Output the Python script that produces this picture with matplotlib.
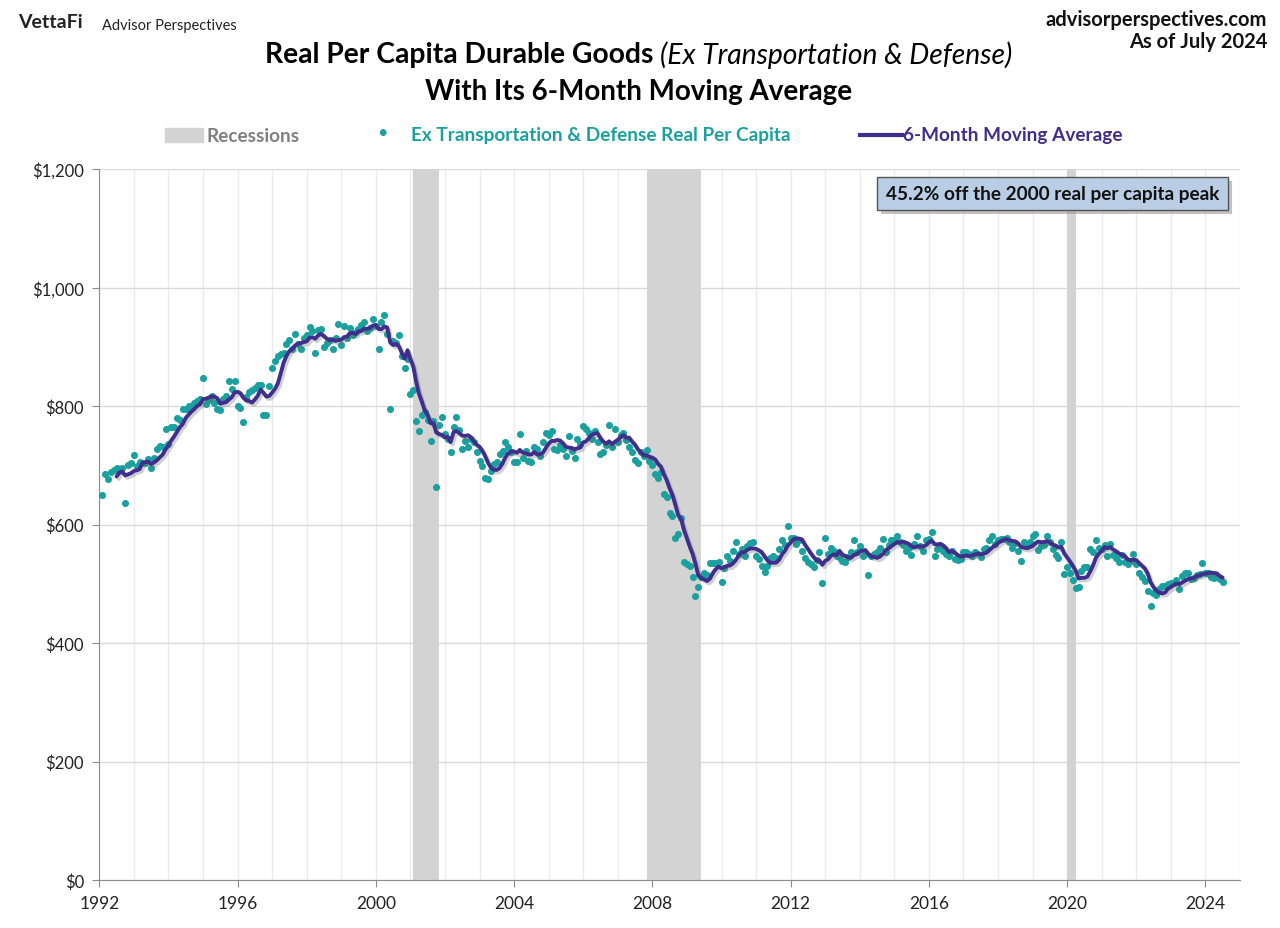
import matplotlib
matplotlib.use("Agg")
import matplotlib.pyplot as plt
import matplotlib.dates as mdates
import matplotlib.patheffects as pe
from matplotlib.patches import Rectangle
from matplotlib.ticker import FuncFormatter, MultipleLocator
import pandas as pd

plt.rcParams['font.family'] = ['Lato', 'DejaVu Sans']

# monthly real per capita durable goods ex transportation & defense, Feb 1992 - Jul 2024
first_month = "1992-02-01"
per_capita = [
    649, 686, 676, 688, 692, 695, 690, 695, 637, 700, 703,            # 1992 (Feb-Dec)
    717, 698, 705, 703, 703, 710, 695, 712, 728, 733, 730, 762,       # 1993
    736, 765, 765, 780, 777, 795, 795, 800, 797, 805, 808, 812,       # 1994
    848, 803, 810, 817, 805, 795, 793, 812, 817, 843, 829, 843,       # 1995
    800, 797, 773, 815, 823, 827, 830, 835, 835, 784, 784, 834,       # 1996
    864, 876, 885, 888, 890, 905, 912, 897, 922, 905, 897, 914,       # 1997
    920, 934, 927, 890, 929, 930, 899, 907, 912, 897, 914, 938,       # 1998
    903, 935, 915, 932, 919, 925, 930, 937, 942, 927, 932, 947,       # 1999
    935, 896, 942, 953, 922, 795, 910, 907, 919, 885, 864, 880,       # 2000
    820, 827, 775, 758, 785, 790, 777, 741, 775, 664, 768, 781,       # 2001
    753, 745, 723, 764, 781, 760, 728, 741, 730, 745, 740, 723,       # 2002
    708, 699, 678, 677, 691, 702, 705, 719, 724, 740, 730, 722,       # 2003
    705, 705, 753, 713, 724, 708, 706, 730, 728, 716, 740, 755,       # 2004
    751, 757, 727, 726, 735, 727, 715, 749, 724, 712, 744, 736,       # 2005
    767, 761, 755, 745, 757, 740, 719, 723, 735, 768, 730, 762,       # 2006
    740, 751, 755, 742, 730, 722, 709, 704, 723, 716, 726, 708,       # 2007
    700, 685, 679, 688, 651, 646, 619, 615, 578, 584, 611, 536,       # 2008
    533, 530, 511, 480, 494, 511, 518, 514, 535, 535, 535, 536,       # 2009
    503, 526, 546, 539, 555, 570, 550, 558, 547, 564, 568, 571,       # 2010
    546, 542, 530, 519, 530, 544, 547, 544, 558, 574, 565, 597,       # 2011
    578, 578, 567, 573, 555, 544, 537, 533, 528, 540, 553, 501,       # 2012
    577, 550, 560, 556, 547, 543, 539, 537, 545, 553, 573, 554,       # 2013
    564, 547, 550, 515, 547, 550, 553, 560, 576, 554, 565, 573,       # 2014
    573, 581, 570, 565, 556, 560, 549, 567, 581, 564, 556, 573,       # 2015
    576, 587, 546, 559, 564, 556, 550, 547, 556, 542, 540, 542,       # 2016
    553, 553, 550, 547, 553, 550, 545, 559, 560, 573, 581, 567,       # 2017
    573, 576, 576, 578, 570, 561, 569, 556, 539, 571, 564, 571,       # 2018
    581, 584, 557, 564, 565, 581, 570, 559, 549, 544, 570, 516,       # 2019
    528, 518, 506, 492, 494, 522, 528, 529, 559, 554, 573, 561,       # 2020
    559, 565, 546, 567, 549, 544, 537, 549, 536, 533, 539, 550,       # 2021
    533, 518, 511, 505, 487, 462, 484, 481, 491, 497, 496, 500,       # 2022
    501, 502, 506, 491, 513, 518, 518, 508, 510, 514, 516, 535,       # 2023
    518, 518, 512, 510, 512, 508, 503,                                # 2024 (Jan-Jul)
]

rec_start = ["2001-02-01", "2007-11-01", "2020-01-01"]
rec_end = ["2001-11-01", "2009-06-01", "2020-04-01"]

ma_window = 6
note = "45.2% off the 2000 real per capita peak"

TEAL = "#1AA09E"
PURPLE = "#3F2E8C"
GRAY_TXT = "#808080"

dates = pd.date_range(first_month, periods=len(per_capita), freq="MS")
s = pd.Series(per_capita, index=dates)
ma = s.rolling(ma_window).mean()

W, H = 1280, 929
fig = plt.figure(figsize=(W / 100, H / 100), dpi=100)
ax = fig.add_axes([99.3 / W, 1 - 881 / H, (1240 - 99.3) / W, 711 / H])

for a, b in zip(rec_start, rec_end):
    ax.axvspan(pd.Timestamp(a), pd.Timestamp(b), color="#D3D3D3", lw=0, zorder=1)

ax.scatter(s.index, s.values, s=26, color=TEAL, lw=0, zorder=3)
ax.plot(ma.index, ma.values, color=PURPLE, lw=2.8, zorder=4, solid_capstyle="round",
        path_effects=[pe.SimpleLineShadow(offset=(1.5, -1.8), shadow_color="#666666", alpha=0.3),
                      pe.Normal()])

ax.set_xlim(pd.Timestamp("1992-01-01"), pd.Timestamp("2025-01-01"))
ax.set_ylim(0, 1200)
ax.yaxis.set_major_locator(MultipleLocator(200))
ax.yaxis.set_major_formatter(FuncFormatter(lambda v, p: "${:,.0f}".format(v)))
ax.xaxis.set_major_locator(mdates.YearLocator(4))
ax.xaxis.set_minor_locator(mdates.YearLocator(1))
ax.xaxis.set_major_formatter(mdates.DateFormatter("%Y"))

ax.grid(axis="y", which="major", color="#D9D9D9", lw=1, zorder=0)
ax.grid(axis="x", which="both", color="#EBEBEB", lw=1, zorder=0)
ax.set_axisbelow(True)
for sp in ["top", "right"]:
    ax.spines[sp].set_visible(False)
for sp in ["left", "bottom"]:
    ax.spines[sp].set_color("#8C8C8C")
ax.tick_params(axis="both", which="major", length=5, color="#8C8C8C", labelsize=12.5,
               labelcolor="#222222", pad=6)
ax.tick_params(axis="y", labelsize=12)
ax.tick_params(axis="x", which="minor", length=0)

# header
fig.text(18 / W, 1 - 23 / H, "VettaFi", fontsize=14, fontweight="bold", color="#222222",
         va="center", ha="left")
fig.text(102 / W, 1 - 26 / H, "Advisor Perspectives", fontsize=10.5, color="#222222",
         va="center", ha="left")
fig.text(1267 / W, 1 - 20 / H, "advisorperspectives.com", fontsize=14.5, fontweight="bold",
         color="#111111", va="center", ha="right")
fig.text(1267 / W, 1 - 42 / H, "As of July 2024", fontsize=14.5, fontweight="bold",
         color="#111111", va="center", ha="right")

renderer = fig.canvas.get_renderer()


def text_runs(parts, xc, y, size):
    items = []
    for txt, weight, style, color in parts:
        t = fig.text(0, 1 - y / H, txt, fontsize=size, fontweight=weight, fontstyle=style,
                     color=color, va="center", ha="left")
        items.append(t)
    widths = [t.get_window_extent(renderer).width for t in items]
    x = xc - sum(widths) / 2
    for t, w in zip(items, widths):
        t.set_x(x / W)
        x += w
    return items


text_runs([("Real Per Capita Durable Goods ", "bold", "normal", "black"),
           ("(Ex Transportation & Defense)", "normal", "italic", "black")], 639, 55, 20.3)
text_runs([("With Its 6-Month Moving Average", "bold", "normal", "black")], 639, 92, 20)

# legend
ly = 136
fs_leg = 13.7
fig.patches.append(Rectangle((165 / W, 1 - 143 / H), 38 / W, 14 / H, color="#D3D3D3",
                             transform=fig.transFigure, figure=fig))
fig.text(207 / W, 1 - ly / H, "Recessions", fontsize=fs_leg, fontweight="bold", color=GRAY_TXT,
         va="center", ha="left")
fig.text(382 / W, 1 - 133 / H, "\u2022", fontsize=13, color=TEAL, va="center", ha="center")
fig.text(411 / W, 1 - ly / H, "Ex Transportation & Defense Real Per Capita", fontsize=fs_leg,
         fontweight="bold", color=TEAL, va="center", ha="left")
fig.lines.append(plt.Line2D([860 / W, 902 / W], [1 - ly / H, 1 - ly / H], color=PURPLE, lw=3,
                            transform=fig.transFigure, figure=fig))
fig.text(903 / W, 1 - ly / H, "6-Month Moving Average", fontsize=fs_leg, fontweight="bold",
         color=PURPLE, va="center", ha="left")

# note box with shadow
bx0, by0, bx1, by1 = 877, 178, 1228, 211
fig.patches.append(Rectangle(((bx0 + 4) / W, 1 - (by1 + 4) / H), (bx1 - bx0) / W,
                             (by1 - by0) / H, facecolor="#9A9A9A", edgecolor="none",
                             alpha=0.6, transform=fig.transFigure, figure=fig, zorder=5))
fig.patches.append(Rectangle((bx0 / W, 1 - by1 / H), (bx1 - bx0) / W, (by1 - by0) / H,
                             facecolor="#B9CDE5", edgecolor="#555555", lw=1,
                             transform=fig.transFigure, figure=fig, zorder=6))
fig.text((bx0 + bx1) / 2 / W, 1 - (by0 + by1) / 2 / H, note, fontsize=13.7, fontweight="bold",
         color="#111111", va="center", ha="center", zorder=7)

fig.savefig("out.png", dpi=100)
